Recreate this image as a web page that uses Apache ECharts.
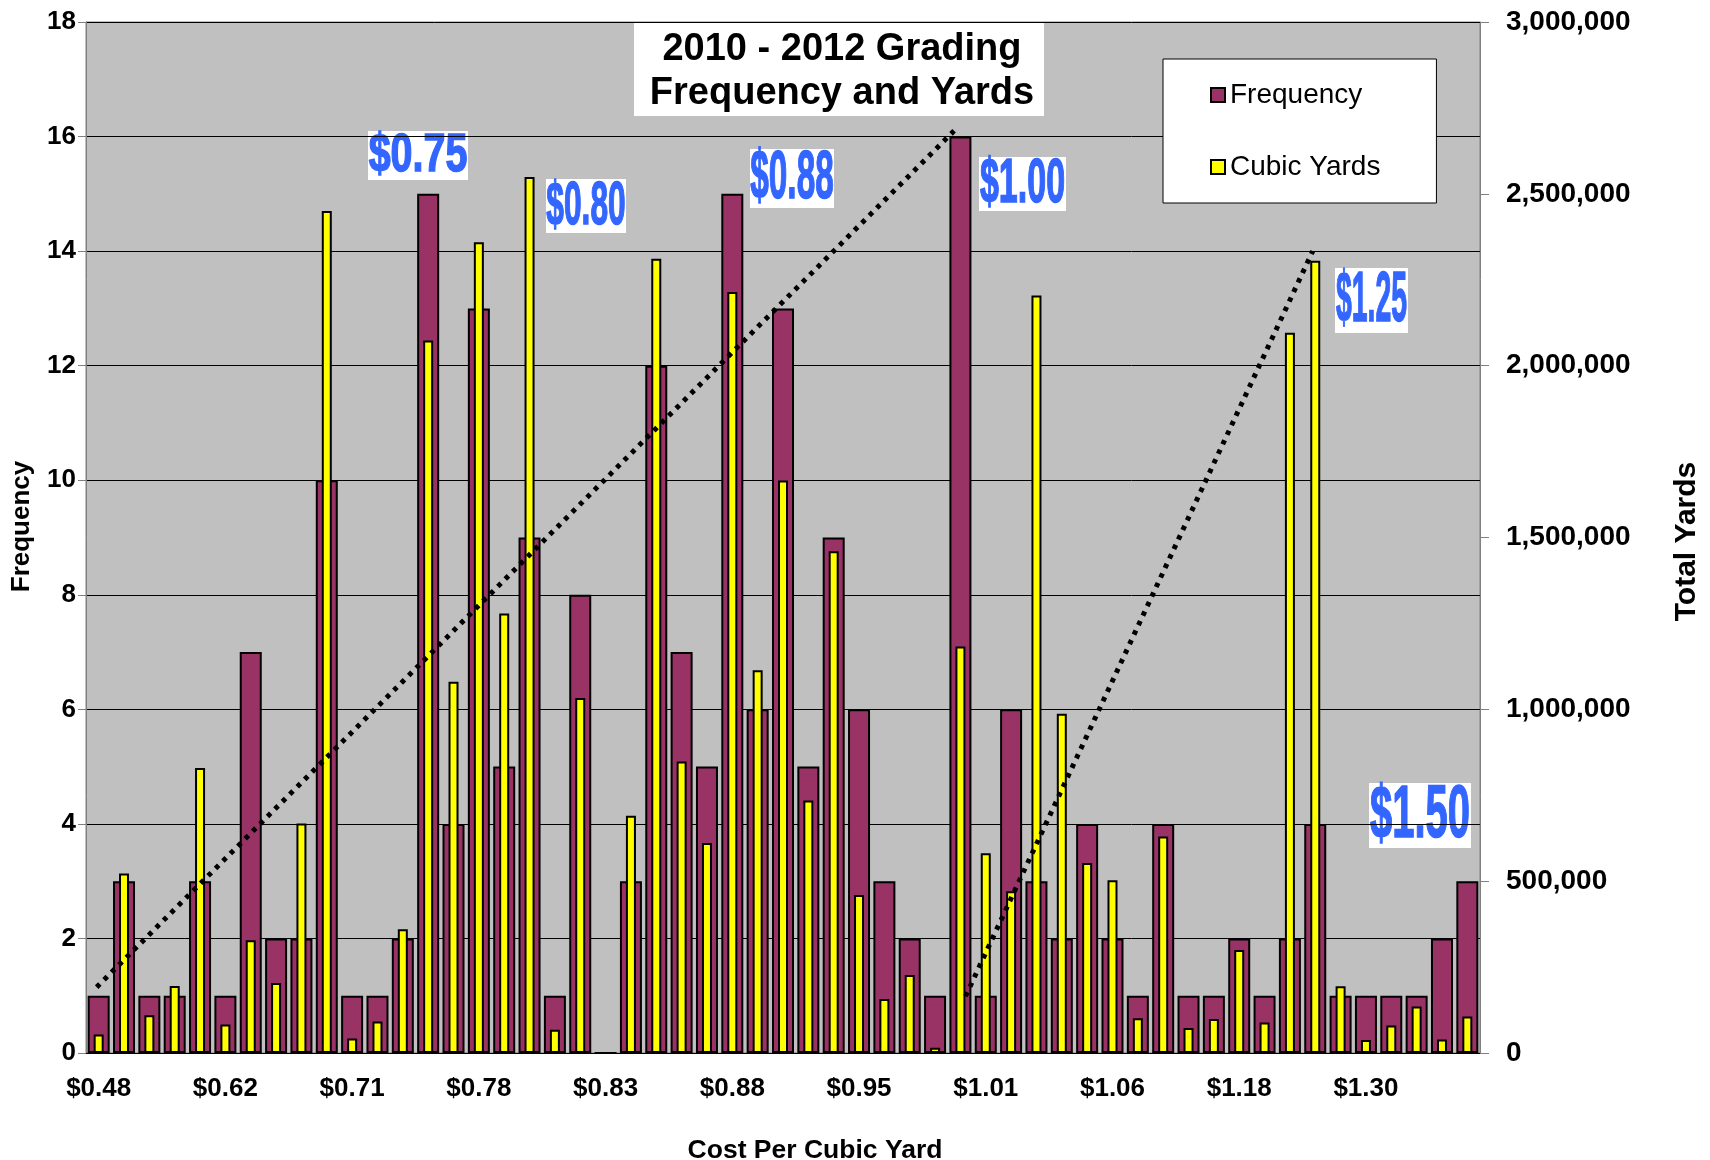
<!DOCTYPE html>
<html>
<head>
<meta charset="utf-8">
<title>2010 - 2012 Grading Frequency and Yards</title>
<script src="https://cdn.jsdelivr.net/npm/echarts@6/dist/echarts.min.js"></script>
<style>
	html, body { margin: 0; padding: 0; background: #fff; }
	#grading-chart { width: 1710px; height: 1160px; }
</style>
</head>
<body>
<div id="grading-chart"></div>
<script>
// cost per cubic yard (only every 5th one is labelled on the axis)
var costLabels = ['$0.48','$0.52','$0.55','$0.58','$0.60','$0.62','$0.64','$0.66','$0.68','$0.70',
	'$0.71','$0.72','$0.73','$0.75','$0.76','$0.78','$0.79','$0.80','$0.81','$0.82',
	'$0.83','$0.84','$0.85','$0.86','$0.87','$0.88','$0.89','$0.90','$0.92','$0.93',
	'$0.95','$0.96','$0.97','$0.98','$1.00','$1.01','$1.02','$1.03','$1.04','$1.05',
	'$1.06','$1.08','$1.10','$1.12','$1.15','$1.18','$1.20','$1.22','$1.25','$1.27',
	'$1.30','$1.35','$1.40','$1.45','$1.50'];

// number of jobs per cost
var frequency = [1,3,1,1,3,1,7,2,2,10,
	1,1,2,15,4,13,5,9,1,8,
	0,3,12,7,5,15,6,13,5,9,
	6,3,2,1,16,1,6,3,2,4,
	2,1,4,1,1,2,1,2,4,1,
	1,1,1,2,3];

// total cubic yards per cost
var cubicYards = [54000,522000,110000,195000,829000,83000,328000,204000,668000,2450000,
	42000,92000,360000,2073000,1080000,2359000,1279000,2549000,68000,1033000,
	0,690000,2311000,848000,611000,2214000,1114000,1666000,735000,1460000,
	460000,157000,227000,15000,1183000,581000,471000,2204000,987000,553000,
	503000,101000,630000,73000,99000,300000,89000,2096000,2305000,194000,
	38000,80000,135000,39000,106000];

// dotted trend strokes, [category position, frequency]
var trendLow = [[0.42, 1.15], [34.25, 16.1]];
var trendHigh = [[34.7, 0.99], [48.4, 14.0]];

// price call-outs
var priceNotes = ['$0.75', '$0.80', '$0.88', '$1.00', '$1.25', '$1.50'];

var FONT = '"Liberation Sans", Arial, sans-serif';

// call-out boxes: x, y, w, h, font size, horizontal squeeze
var noteBoxes = [
	[368, 131, 100, 49, 54, 0.73],
	[546, 179, 80, 54, 61, 0.52],
	[750, 149, 84, 59, 68, 0.49],
	[979, 157, 87, 54, 63, 0.54],
	[1335, 268, 73, 65, 71, 0.40],
	[1369, 783, 102, 65, 74, 0.54]
];

function noteGraphic(txt, box){
	return {
		type: 'group',
		z: 100,
		children: [
			{
				type: 'rect',
				shape: { x: box[0], y: box[1], width: box[2], height: box[3] },
				style: { fill: '#ffffff' }
			},
			{
				type: 'text',
				x: box[0] + box[2] / 2,
				y: box[1] + box[3] / 2 + 1,
				scaleX: box[5],
				style: {
					text: txt,
					fontFamily: FONT,
					fontWeight: 'bold',
					fontSize: box[4],
					fill: '#3366FF',
					stroke: '#3366FF',
					lineWidth: 1.5,
					align: 'center',
					verticalAlign: 'middle'
				}
			}
		]
	};
}

var graphics = [
	// chart title box
	{
		type: 'group',
		z: 100,
		children: [
			{
				type: 'rect',
				shape: { x: 634, y: 22, width: 410, height: 94 },
				style: { fill: '#ffffff' }
			},
			{
				type: 'text',
				x: 842,
				y: 72,
				style: {
					text: '2010 - 2012 Grading\nFrequency and Yards',
					fontFamily: FONT,
					fontWeight: 'bold',
					fontSize: 38,
					lineHeight: 44,
					fill: '#000',
					align: 'center',
					verticalAlign: 'middle'
				}
			}
		]
	}
];
for (var i = 0; i < priceNotes.length; i++) {
	graphics.push(noteGraphic(priceNotes[i], noteBoxes[i]));
}

var chart = echarts.init(document.getElementById('grading-chart'));
chart.setOption({
	animation: false,
	backgroundColor: '#ffffff',
	grid: {
		left: 86,
		right: 230,
		top: 22,
		bottom: 107,
		containLabel: false,
		outerBoundsMode: 'none',
		show: true,
		backgroundColor: '#C0C0C0',
		borderColor: '#808080',
		borderWidth: 1
	},
	legend: {
		data: ['Frequency', 'Cubic Yards'],
		orient: 'vertical',
		left: 1163,
		top: 59,
		padding: [22, 56, 22, 47],
		itemGap: 44,
		itemWidth: 14,
		itemHeight: 14,
		icon: 'rect',
		backgroundColor: '#ffffff',
		borderColor: '#000000',
		borderWidth: 1,
		textStyle: { fontFamily: FONT, fontSize: 28, color: '#000' }
	},
	xAxis: [
		{
			type: 'category',
			data: costLabels,
			name: 'Cost Per Cubic Yard',
			nameLocation: 'middle',
			nameGap: 84,
			nameTextStyle: { fontFamily: FONT, fontWeight: 'bold', fontSize: 26.5, color: '#000', padding: [0, 0, 0, 64] },
			axisLine: { lineStyle: { color: '#000', width: 1 } },
			axisTick: { interval: 3, length: 7, lineStyle: { color: '#000' } },
			axisLabel: { interval: 4, margin: 23, fontFamily: FONT, fontWeight: 'bold', fontSize: 26, color: '#000' },
			splitLine: { show: false }
		},
		{
			// second category axis so the yellow bars sit centred on the maroon ones
			type: 'category',
			data: costLabels,
			show: false
		},
		{
			// plain number axis for the hand drawn dotted strokes
			type: 'value',
			min: 0,
			max: 55,
			show: false
		}
	],
	yAxis: [
		{
			type: 'value',
			min: 0,
			max: 18,
			interval: 2,
			name: 'Frequency',
			nameLocation: 'middle',
			nameGap: 51,
			nameTextStyle: { fontFamily: FONT, fontWeight: 'bold', fontSize: 26, color: '#000', padding: [0, 0, 0, 22] },
			axisLine: { show: true, lineStyle: { color: '#808080' } },
			axisTick: { show: true, length: 8, lineStyle: { color: '#808080' } },
			axisLabel: { margin: 10, fontFamily: FONT, fontWeight: 'bold', fontSize: 26, color: '#000' },
			splitLine: { show: true, lineStyle: { color: '#000', width: 1 } }
		},
		{
			type: 'value',
			min: 0,
			max: 3000000,
			interval: 500000,
			position: 'right',
			name: 'Total Yards',
			nameLocation: 'middle',
			nameRotate: 90,
			nameGap: 192,
			nameTextStyle: { fontFamily: FONT, fontWeight: 'bold', fontSize: 30, color: '#000', padding: [0, 8, 0, 0] },
			axisLine: { show: true, lineStyle: { color: '#808080' } },
			axisTick: { show: true, length: 9, lineStyle: { color: '#808080' } },
			axisLabel: {
				margin: 26,
				fontFamily: FONT,
				fontWeight: 'bold',
				fontSize: 28,
				color: '#000',
				formatter: function(v){ return v.toLocaleString('en-US'); }
			},
			splitLine: { show: false }
		}
	],
	series: [
		{
			name: 'Frequency',
			type: 'bar',
			xAxisIndex: 0,
			yAxisIndex: 0,
			barWidth: 22,
			data: frequency,
			itemStyle: { color: '#993366', borderColor: '#000', borderWidth: 2 }
		},
		{
			name: 'Cubic Yards',
			type: 'bar',
			xAxisIndex: 1,
			yAxisIndex: 1,
			barWidth: 10,
			data: cubicYards,
			itemStyle: { color: '#FFFF00', borderColor: '#000', borderWidth: 2 }
		},
		{
			name: 'trend low',
			type: 'line',
			xAxisIndex: 2,
			yAxisIndex: 0,
			data: trendLow,
			showSymbol: false,
			silent: true,
			z: 5,
			lineStyle: { color: '#000', width: 5, type: [4.5, 6], cap: 'butt' }
		},
		{
			name: 'trend high',
			type: 'line',
			xAxisIndex: 2,
			yAxisIndex: 0,
			data: trendHigh,
			showSymbol: false,
			silent: true,
			z: 5,
			lineStyle: { color: '#000', width: 5, type: [4.5, 6], cap: 'butt' }
		}
	],
	graphic: graphics
});
</script>
</body>
</html>
